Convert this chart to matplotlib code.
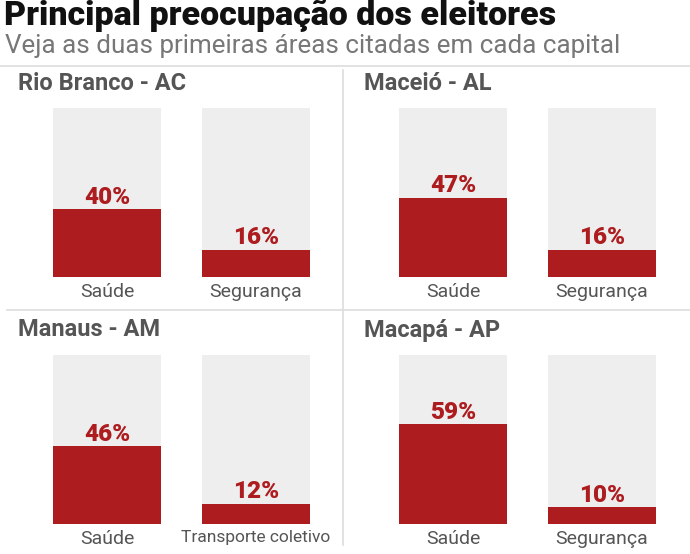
import matplotlib
matplotlib.use("Agg")
import matplotlib.pyplot as plt
from matplotlib.lines import Line2D

# data
cities = ["Rio Branco - AC", "Maceió - AL", "Manaus - AM", "Macapá - AP"]
areas = [["Saúde", "Segurança"],
         ["Saúde", "Segurança"],
         ["Saúde", "Transporte coletivo"],
         ["Saúde", "Segurança"]]
values = [[40, 16], [47, 16], [46, 12], [59, 10]]

plt.rcParams['font.family'] = ['Roboto', 'DejaVu Sans']

RED = "#ad1c1e"
BOX = "#eeeeee"
LINE = "#dddddd"
GREY_TXT = "#555555"

W, H = 690, 554
fig = plt.figure(figsize=(W / 100, H / 100), dpi=100)
fig.patch.set_facecolor("white")

def px(x, y):
    return x / W, 1 - y / H

# header
fig.text(*px(4, 16), "Principal preocupação dos eleitores", fontsize=24.5,
         fontweight="heavy", color="#111111", va="center", ha="left")
fig.text(*px(5, 46), "Veja as duas primeiras áreas citadas em cada capital",
         fontsize=18.7, color="#777777", va="center", ha="left")

# divider lines
fig.add_artist(Line2D([0, 1], [1 - 66 / H] * 2, color=LINE, lw=1.2, transform=fig.transFigure))
fig.add_artist(Line2D([343 / W] * 2, [1 - 70 / H, 1 - 545 / H], color=LINE, lw=1.2, transform=fig.transFigure))
fig.add_artist(Line2D([7 / W, 690 / W], [1 - 310 / H] * 2, color=LINE, lw=1.2, transform=fig.transFigure))

box_w = 108
step = 149
box_h = 169
for i, city in enumerate(cities):
    col, row = i % 2, i // 2
    x0 = 53 + col * 346
    bottom = 277 + row * 247
    # panel title
    fig.text(*px(18 + col * 346, 83 + row * 247), city, fontsize=17,
             fontweight="bold", color=GREY_TXT, va="center", ha="left")

    span = box_w + step
    ax = fig.add_axes([x0 / W, 1 - bottom / H, span / W, box_h / H])
    bw = box_w / step
    ax.set_xlim(-bw / 2, 1 + bw / 2)
    ax.set_ylim(0, 100)
    pos = [0, 1]
    ax.bar(pos, [100, 100], width=bw, color=BOX, zorder=1)
    ax.bar(pos, values[i], width=bw, color=RED, zorder=2)
    for p, v in zip(pos, values[i]):
        ax.annotate(f"{v}%", (p, v), xytext=(0, 4), textcoords="offset points",
                    ha="center", va="baseline", fontsize=17.5, fontweight="heavy",
                    color=RED)
    ax.set_xticks(pos)
    ax.set_xticklabels(areas[i], color=GREY_TXT)
    for lab in ax.get_xticklabels():
        lab.set_fontsize(12.5 if len(lab.get_text()) > 12 else 14)
    ax.tick_params(axis="x", length=0, pad=4)
    ax.set_yticks([])
    for s in ax.spines.values():
        s.set_visible(False)

fig.savefig("out.png", dpi=100, facecolor="white")
